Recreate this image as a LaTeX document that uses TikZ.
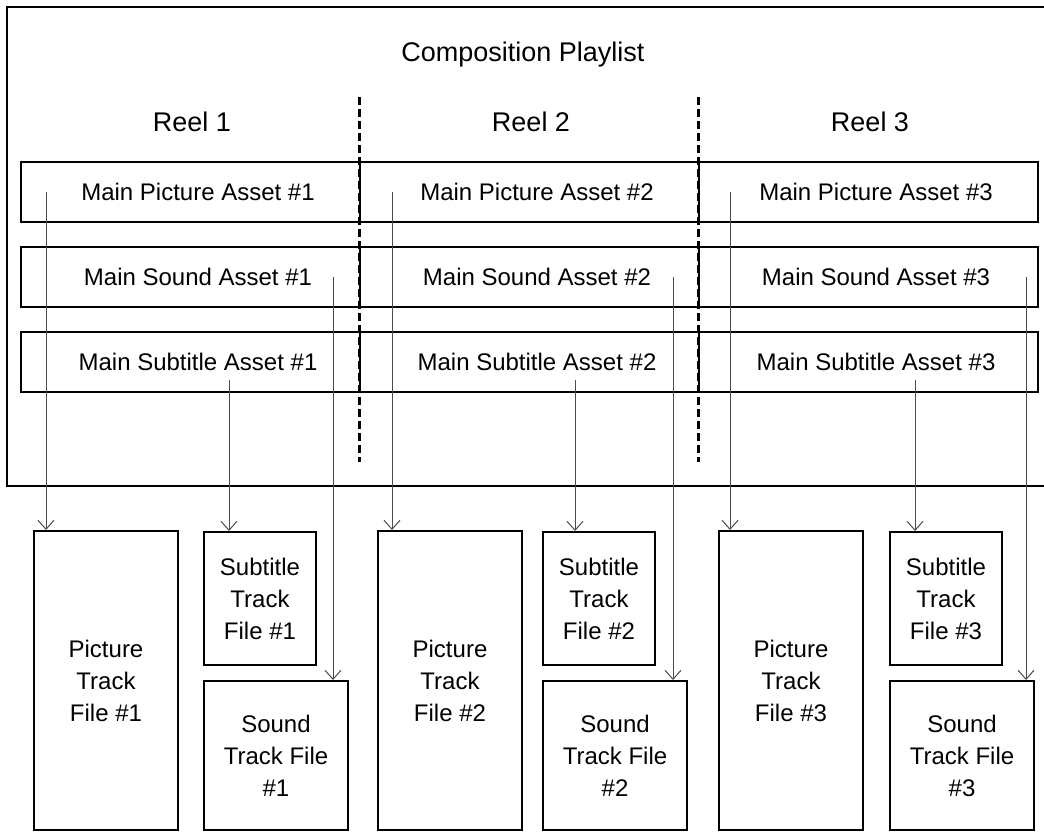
\documentclass[tikz,border=0pt]{standalone}
\usepackage{fontspec}
\setmainfont{Liberation Sans}
\usetikzlibrary{arrows.meta,positioning,calc}

\begin{document}
\begin{tikzpicture}[x=1pt,y=-1pt,
      every node/.style={font=\fontsize{24}{32}\selectfont},
      bigtext/.style={font=\fontsize{27}{32}\selectfont},
      cell/.style={draw,line width=2pt,minimum width=339pt,minimum height=60pt,inner sep=0pt,
        execute at begin node={\hspace*{16pt}}},
      trackfile/.style={draw,line width=2pt,align=center,inner sep=0pt,anchor=north west},
      link/.style={black!70,line width=1pt,-{Straight Barb[length=9pt,width=16pt]}},
      reelsep/.style={line width=3pt,dash pattern=on 8pt off 4pt}
    ]
    \clip (0,0) rectangle (1044,831);
    % playlist frame, its right side runs off the page
    \draw[line width=2pt] (1060,7) -- (7,7) -- (7,486) -- (1060,486);
    \node[bigtext] (cpl) at (523,55) {Composition Playlist};

    % reels and their assets
    \foreach \r/\cx in {1/190,2/529,3/868} {
      \node[bigtext] (reel\r) at (\cx+2,122) {Reel \r};
      \node[cell] (pic\r) at (\cx,192) {Main Picture Asset \#\r};
      \node[cell] (snd\r) at (\cx,277) {Main Sound Asset \#\r};
      \node[cell] (sub\r) at (\cx,362) {Main Subtitle Asset \#\r};
    }
    \draw[reelsep] (359.5,97) -- (359.5,462);
    \draw[reelsep] (698.5,97) -- (698.5,462);

    % track files
    \foreach \r/\px/\sx in {1/33/203,2/377/542,3/718/889} {
      \node[trackfile,minimum width=144pt,minimum height=299pt] (ptf\r) at (\px,530) {Picture\\Track\\File \#\r};
      \node[trackfile,minimum width=112pt,minimum height=133pt] (stf\r) at (\sx,531) {Subtitle\\Track\\File \#\r};
      \node[trackfile,minimum width=144pt,minimum height=149pt] (atf\r) at (\sx,680) {Sound\\Track File\\\#\r};
    }

    % asset -> track file
    \foreach \r/\pa/\ua/\sa in {1/46/229/333,2/392/575/673,3/730/915/1026} {
      \coordinate (pa\r) at (\pa,0);
      \coordinate (ua\r) at (\ua,0);
      \coordinate (sa\r) at (\sa,0);
      \draw[link] (pa\r |- pic\r.center) -- (pa\r |- ptf\r.north);
      \draw[link] ($(ua\r |- sub\r.center)+(0,18)$) -- (ua\r |- stf\r.north);
      \draw[link] (sa\r |- snd\r.center) -- (sa\r |- atf\r.north);
    }
\end{tikzpicture}
\end{document}
